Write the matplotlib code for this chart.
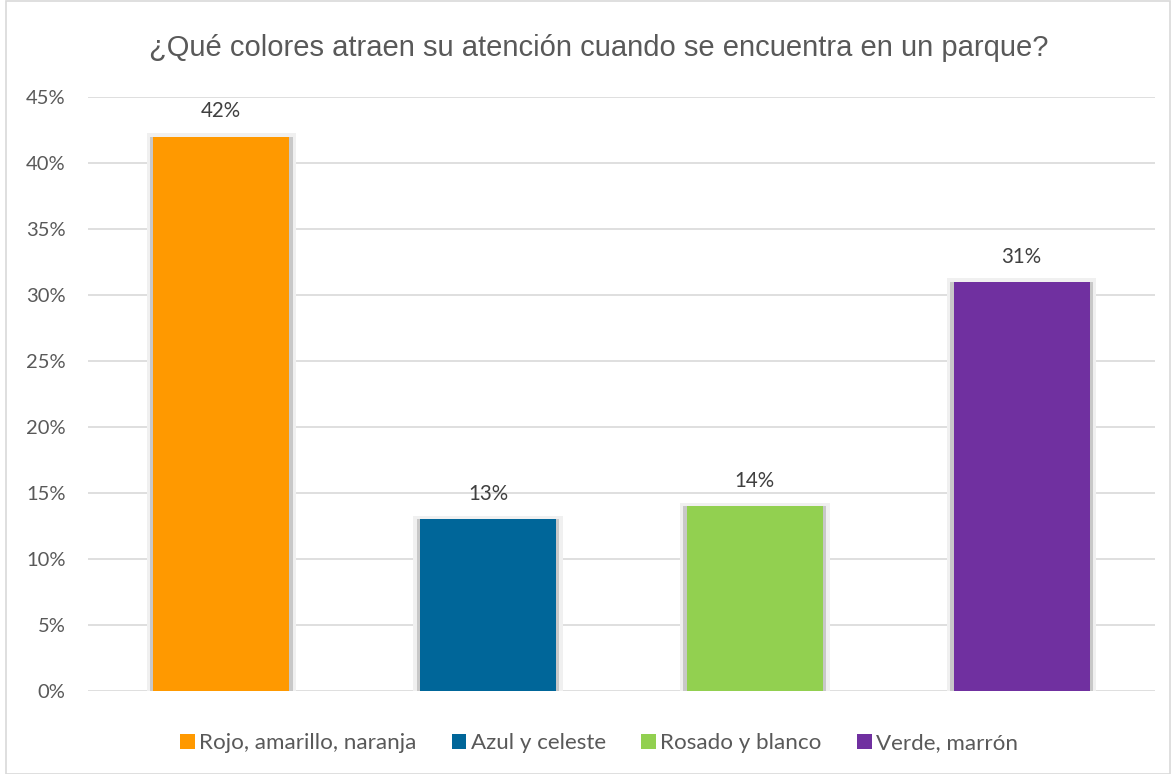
import matplotlib.pyplot as plt
from matplotlib.patches import Rectangle, Patch
import numpy as np

categorias = ['Rojo, amarillo, naranja', 'Azul y celeste', 'Rosado y blanco', 'Verde, marrón']
valores = [42, 13, 14, 31]
colores = ['#FF9900', '#006699', '#92D050', '#7030A0']
ticks_y = [0, 5, 10, 15, 20, 25, 30, 35, 40, 45]

plt.rcParams['font.family'] = ['Liberation Sans', 'DejaVu Sans']

fig = plt.figure(figsize=(11.71, 7.74), dpi=100)
ax = fig.add_axes([0.0751, 0.1072, 0.9112, 0.7675])

x = np.arange(len(valores))
ancho = 0.51

# sombra suave alrededor de cada barra
ax.bar(x, np.array(valores) + 0.25, width=ancho + 0.05, color='#f0f0f0', zorder=2)
ax.bar(x, valores, width=ancho + 0.025, color='#c8c8c8', zorder=2)
barras = ax.bar(x, valores, width=ancho, color=colores, zorder=3)

for xi, v in zip(x, valores):
    ax.annotate(f'{v}%', (xi, v), xytext=(0, 11), textcoords='offset points',
                ha='center', va='bottom', fontsize=14.8, family='Lato', color='#404040')

ax.set_xlim(-0.5, 3.5)
ax.set_ylim(0, 45)
ax.set_yticks(ticks_y)
ax.set_yticklabels([f'{t}%' for t in ticks_y], fontsize=14.5, family='Lato', color='#595959')
ax.set_xticks([])
ax.tick_params(axis='y', length=0, pad=16)
ax.grid(axis='y', color='#d9d9d9', linewidth=1.2, zorder=0)
for s in ax.spines.values():
    s.set_visible(False)

fig.suptitle('¿Qué colores atraen su atención cuando se encuentra en un parque?',
             x=0.5115, y=0.938, va='center', fontsize=21, color='#595959')

handles = [Patch(facecolor=c, label=l) for c, l in zip(colores, categorias)]
fig.legend(handles=handles, loc='center', bbox_to_anchor=(0.5115, 0.04), ncol=4,
           frameon=False, prop={'family': 'Lato', 'size': 16.1}, labelcolor='#595959',
           handlelength=0.66, handleheight=0.66, handletextpad=0.18, columnspacing=1.6)

fig.patches.append(Rectangle((0.005, 0.0), 0.994, 0.999, transform=fig.transFigure,
                             fill=False, edgecolor='#d9d9d9', linewidth=1.2))

fig.savefig('out.png', dpi=100)
